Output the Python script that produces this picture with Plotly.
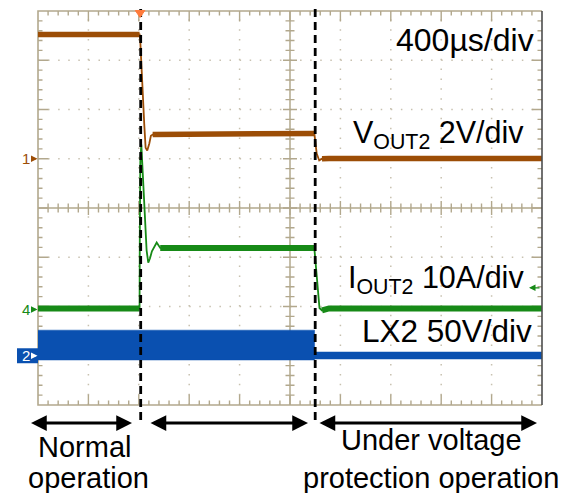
import plotly.graph_objects as go

# ---------------- scope settings ----------------
T_DIV = 400.0          # µs per division
T_LEFT = -810.0        # time at left edge of screen, µs (trigger = 0)
N_XDIV, N_YDIV, SUB = 10, 8, 5

VOUT_SCALE, VOUT_POS = 2.0, 5.0     # V/div, ground marker (div from bottom)
IOUT_SCALE, IOUT_POS = 10.0, 1.94   # A/div
LX_SCALE, LX_POS = 50.0, 1.0        # V/div

# ---------------- waveforms ----------------
# VOUT2 (V)
vout_t = [-810, -4, 1, 13, 25, 33, 44, 57, 73, 86, 100, 400, 800, 1150, 1383,
          1402, 1422, 1444, 1500, 3190]
vout_v = [5.05, 5.05, 4.85, 3.29, 2.07, 1.42, 0.45, 0.33, 0.61, 0.93, 0.98, 0.99,
          1.03, 1.07, 1.03, 0.21, -0.07, 0.0, 0.01, 0.01]
vout_flat = [(0, 2), (10, 15), (17, 20)]

# IOUT2 (A)
iout_t = [-810, -4, -2, 2, 10, 25, 39, 52, 65, 79, 94, 132, 160, 700, 1383,
          1402, 1424, 1444, 1500, 3190]
iout_a = [0.2, 0.2, 15.0, 30.0, 33.5, 25.6, 18.7, 12.0, 9.5, 10.4, 11.8, 13.6,
          12.5, 12.4, 12.5, 6.6, 0.3, -0.2, 0.2, 0.2]
iout_flat = [(0, 2), (12, 15), (17, 20)]

# LX2 switching node, peak-detect envelope (V)
lx_t = [-810, 1385, 1385, 3190]
lx_max = [26.0, 26.0, 3.8, 3.8]
lx_min = [-4.3, -4.3, -3.3, -3.3]

# event markers (µs) and trigger-level of channel 4 (A)
events = [5, 1390]
iout_trig = 4.4

labels_right = ["400µs/div", "V<sub>OUT2</sub> 2V/div", "I<sub>OUT2</sub> 10A/div", "LX2 50V/div"]
labels_bottom = [["Normal", "operation"], ["Under voltage", "protection operation"]]

# ---------------- styling ----------------
W, H = 569, 493
ML, MR, MT, MB = 38, 27, 11, 88
PW, PH = W - ML - MR, H - MT - MB
TAN = "#b2a88d"
DOT = "#c8c1b0"
BROWN = "#9c4d06"
GREEN = "#178a17"
BLUE = "#0a50b0"
ORANGE = "#ff7b3c"
FONT = "Liberation Sans, Arial, sans-serif"


def xp(px):
    return (px - ML) / PW


def yp(py):
    return (H - MB - py) / PH


def ch_range(scale, pos):
    return [-pos * scale, (N_YDIV - pos) * scale]


fig = go.Figure()

# LX2 envelope
fig.add_trace(go.Scatter(x=lx_t, y=lx_max, yaxis="y2", mode="lines",
                         line=dict(color=BLUE, width=0.5), hoverinfo="skip"))
fig.add_trace(go.Scatter(x=lx_t, y=lx_min, yaxis="y2", mode="lines", fill="tonexty",
                         fillcolor=BLUE, line=dict(color=BLUE, width=0.5), hoverinfo="skip"))

# IOUT2
fig.add_trace(go.Scatter(x=iout_t, y=iout_a, yaxis="y3", mode="lines",
                         line=dict(color=GREEN, width=1.8), hoverinfo="skip"))
for a, b in iout_flat:
    fig.add_trace(go.Scatter(x=iout_t[a:b], y=iout_a[a:b], yaxis="y3", mode="lines",
                             line=dict(color=GREEN, width=6), hoverinfo="skip"))

# VOUT2
fig.add_trace(go.Scatter(x=vout_t, y=vout_v, yaxis="y", mode="lines",
                         line=dict(color=BROWN, width=1.8), hoverinfo="skip"))
for a, b in vout_flat:
    fig.add_trace(go.Scatter(x=vout_t[a:b], y=vout_v[a:b], yaxis="y", mode="lines",
                             line=dict(color=BROWN, width=5.5), hoverinfo="skip"))

# ---------------- graticule ----------------
shapes = []
# dotted division lines
for i in range(1, N_XDIV):
    if i == N_XDIV // 2:
        continue
    shapes.append(dict(type="line", xref="paper", yref="paper", x0=i / N_XDIV, x1=i / N_XDIV,
                       y0=0, y1=1, layer="below",
                       line=dict(color=DOT, width=1.5, dash=f"1.5px,{PH / (N_YDIV * SUB) - 1.5:.2f}px")))
for j in range(1, N_YDIV):
    if j == N_YDIV // 2:
        continue
    shapes.append(dict(type="line", xref="paper", yref="paper", y0=j / N_YDIV, y1=j / N_YDIV,
                       x0=0, x1=1, layer="below",
                       line=dict(color=DOT, width=1.5, dash=f"1.5px,{PW / (N_XDIV * SUB) - 1.5:.2f}px")))

# center cross
shapes.append(dict(type="line", xref="paper", yref="paper", x0=0.5, x1=0.5, y0=0, y1=1,
                   layer="below", line=dict(color=TAN, width=1.5)))
shapes.append(dict(type="line", xref="paper", yref="paper", x0=0, x1=1, y0=0.5, y1=0.5,
                   layer="below", line=dict(color=TAN, width=1.5)))

# tick marks
seg = []
for k in range(1, N_XDIV * SUB):
    x = k / (N_XDIV * SUB)
    major = k % SUB == 0
    L = (10.5 if major else 4.5) / PH
    c = (7 if major else 4.5) / PH
    seg.append(f"M{x:.5f},0L{x:.5f},{L:.5f}")
    seg.append(f"M{x:.5f},1L{x:.5f},{1 - L:.5f}")
    seg.append(f"M{x:.5f},{0.5 - c:.5f}L{x:.5f},{0.5 + c:.5f}")
for k in range(1, N_YDIV * SUB):
    y = k / (N_YDIV * SUB)
    major = k % SUB == 0
    L = (10.5 if major else 4.5) / PW
    c = (7 if major else 4.5) / PW
    seg.append(f"M0,{y:.5f}L{L:.5f},{y:.5f}")
    seg.append(f"M1,{y:.5f}L{1 - L:.5f},{y:.5f}")
    seg.append(f"M{0.5 - c:.5f},{y:.5f}L{0.5 + c:.5f},{y:.5f}")
shapes.append(dict(type="path", xref="paper", yref="paper", path="".join(seg),
                   layer="below", line=dict(color=TAN, width=1.4)))

# border
shapes.append(dict(type="path", xref="paper", yref="paper", path="M1,1L0,1L0,0L1,0",
                   layer="below", line=dict(color=TAN, width=1.6)))
shapes.append(dict(type="line", xref="paper", yref="paper", x0=1, x1=1, y0=0, y1=1,
                   layer="above", line=dict(color="#4d4d4d", width=1.6)))

# event markers
for t in events:
    shapes.append(dict(type="line", xref="x", yref="paper", x0=t, x1=t,
                       y0=yp(420), y1=yp(5), layer="above",
                       line=dict(color="black", width=2.8, dash="8px,5px")))

# trigger position marker (drawn over the event line)
tw = 38
shapes.append(dict(type="path", xref="x", yref="paper", layer="above",
                   path=f"M{-tw},{yp(10.5):.4f}L{tw},{yp(10.5):.4f}L0,{yp(17.5):.4f}Z",
                   fillcolor=ORANGE, line=dict(color=ORANGE, width=1)))

# channel 2 marker box
shapes.append(dict(type="rect", xref="paper", yref="y2", x0=xp(17), x1=0,
                   y0=-7.6, y1=7.6, fillcolor=BLUE, line=dict(width=0), layer="above"))

# ---------------- annotations ----------------
ann = []


def label(text, x, y, size=30, xanchor="right", color="black"):
    ann.append(dict(text=text, x=xp(x), y=yp(y), xref="paper", yref="paper",
                    xanchor=xanchor, yanchor="middle", showarrow=False,
                    font=dict(family=FONT, size=size, color=color)))


label(labels_right[0], 536, 40, size=32)
label(labels_right[1], 526, 134, size=30.5)
label(labels_right[2], 526, 279, size=30.5)
label(labels_right[3], 534, 331, size=31.5)

label(labels_bottom[0][0], 84, 447, size=29, xanchor="center")
label(labels_bottom[0][1], 88, 478, size=29, xanchor="center")
label(labels_bottom[1][0], 431, 440, size=29, xanchor="center")
label(labels_bottom[1][1], 431, 478, size=29, xanchor="center")

# double-headed span arrows
arrow_y = yp(423)
for x_tip0, x_tip1 in [(25.5, 136), (145, 312), (314, 541)]:
    a = x_tip0 + 4
    b = x_tip1 - 4
    ann.append(dict(text="", x=xp(b), y=arrow_y, xref="paper", yref="paper",
                    ax=-(b - a), ay=0, axref="pixel", ayref="pixel",
                    showarrow=True, arrowside="end+start",
                    arrowhead=2, startarrowhead=2, arrowsize=1.05, startarrowsize=1.05,
                    arrowwidth=3, arrowcolor="black"))

# channel ground markers
for name, yref, color in [("1", "y", BROWN), ("4", "y3", GREEN), ("2", "y2", "white")]:
    ann.append(dict(text=name, x=xp(25.5), y=0, xref="paper", yref=yref,
                    xanchor="center", yanchor="middle", showarrow=False,
                    font=dict(family=FONT, size=15, color=color)))
    ann.append(dict(text="", x=xp(37.5), y=0, xref="paper", yref=yref,
                    ax=-7, ay=0, showarrow=True, arrowhead=2, arrowsize=1,
                    arrowwidth=1.3, arrowcolor=color))

# channel 4 trigger level
ann.append(dict(text="", x=xp(529), y=iout_trig, xref="paper", yref="y3",
                ax=12, ay=0, showarrow=True, arrowhead=2, arrowsize=1,
                arrowwidth=1.3, arrowcolor=GREEN))

hidden = dict(showgrid=False, zeroline=False, showticklabels=False, ticks="",
              showline=False, fixedrange=True)

fig.update_layout(
    width=W, height=H,
    margin=dict(l=ML, r=MR, t=MT, b=MB),
    paper_bgcolor="white", plot_bgcolor="white",
    showlegend=False,
    xaxis=dict(range=[T_LEFT, T_LEFT + N_XDIV * T_DIV], **hidden),
    yaxis=dict(range=ch_range(VOUT_SCALE, VOUT_POS), **hidden),
    yaxis2=dict(range=ch_range(LX_SCALE, LX_POS), overlaying="y", **hidden),
    yaxis3=dict(range=ch_range(IOUT_SCALE, IOUT_POS), overlaying="y", **hidden),
    shapes=shapes,
    annotations=ann,
)

fig.write_html("out.html", config=dict(displayModeBar=False))
